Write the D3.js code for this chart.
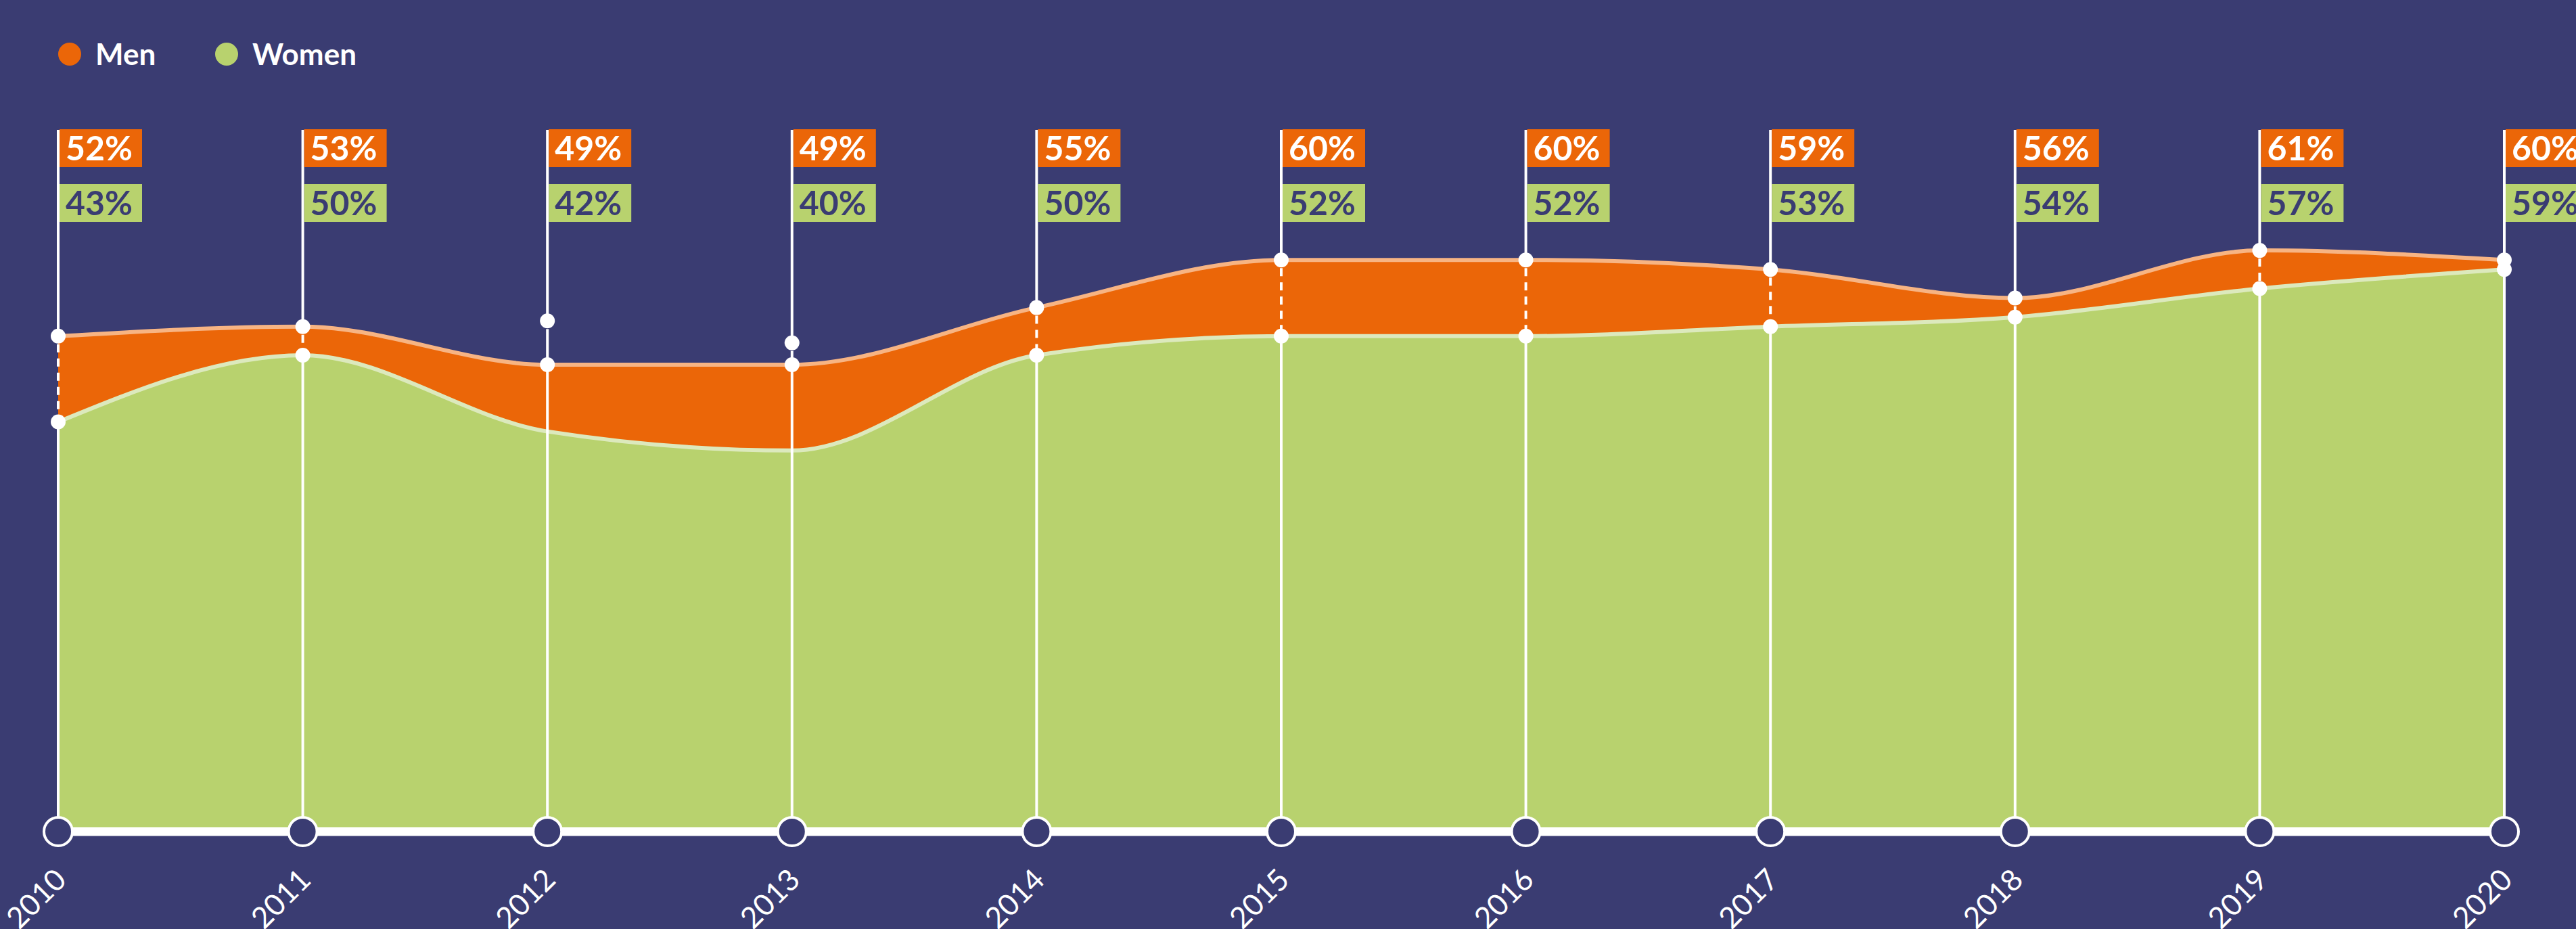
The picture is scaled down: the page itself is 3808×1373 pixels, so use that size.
<!DOCTYPE html>
<html>
<head>
<meta charset="utf-8">
<script src="https://cdn.jsdelivr.net/npm/d3@7"></script>
<style>
  html, body { margin: 0; padding: 0; background: #3a3c72; overflow: hidden; }
  text { font-family: Lato, "Open Sans", sans-serif; }
</style>
</head>
<body>
<div id="chart"></div>
<script>
// Chart data
var years = [2010, 2011, 2012, 2013, 2014, 2015, 2016, 2017, 2018, 2019, 2020];
var men = [52, 53, 49, 49, 55, 60, 60, 59, 56, 61, 60];
var women = [43, 50, 42, 40, 50, 52, 52, 53, 54, 57, 59];
// marker positions as drawn in the source (2012/2013 markers sit off the lines)
var menDot = [52, 53, 53.6, 51.3, 55, 60, 60, 59, 56, 61, 60];
var womenDot = [43, 50, 49, 49, 50, 52, 52, 53, 54, 57, 59];
var seriesNames = ["Men", "Women"];

// Chart params
var svgWidth = 3808;
var svgHeight = 1373;
var navy = "#3a3c72";
var orange = "#eb6608";
var green = "#b8d26e";

var data = years.map(function(yr, i) {
  return { year: yr, men: men[i], women: women[i], menDot: menDot[i], womenDot: womenDot[i] };
});

var svg = d3.select("#chart")
  .append("svg")
  .attr("width", svgWidth)
  .attr("height", svgHeight);

svg.append("rect")
  .attr("width", svgWidth)
  .attr("height", svgHeight)
  .attr("fill", navy);

// Scales
var x = d3.scaleLinear()
  .domain([2010, 2020])
  .range([86, 3702]);

var baseY = 1229;
var y = d3.scaleLinear()
  .domain([0, 60])
  .range([baseY, baseY - 60 * 14.08]);

// Areas
var menArea = d3.area()
  .curve(d3.curveMonotoneX)
  .x(d => x(d.year))
  .y0(d => y(d.women))
  .y1(d => y(d.men));

var womenArea = d3.area()
  .curve(d3.curveMonotoneX)
  .x(d => x(d.year))
  .y0(y(0))
  .y1(d => y(d.women));

svg.append("path")
  .datum(data)
  .attr("d", menArea)
  .attr("fill", orange);

svg.append("path")
  .datum(data)
  .attr("d", womenArea)
  .attr("fill", green);

// Outline lines
var menLine = d3.line().curve(d3.curveMonotoneX).x(d => x(d.year)).y(d => y(d.men));
var womenLine = d3.line().curve(d3.curveMonotoneX).x(d => x(d.year)).y(d => y(d.women));

svg.append("path")
  .datum(data)
  .attr("d", menLine)
  .attr("fill", "none")
  .attr("stroke", "#f7b483")
  .attr("stroke-width", 6);

svg.append("path")
  .datum(data)
  .attr("d", womenLine)
  .attr("fill", "none")
  .attr("stroke", "#dce9bd")
  .attr("stroke-width", 6);

// Vertical drop lines
var topY = 192;
var drops = svg.append("g");

drops.selectAll(".top-seg")
  .data(data)
  .enter()
  .append("line")
  .attr("x1", d => x(d.year))
  .attr("x2", d => x(d.year))
  .attr("y1", topY)
  .attr("y2", d => y(d.menDot))
  .attr("stroke", "white")
  .attr("stroke-width", 4);

drops.selectAll(".mid-seg")
  .data(data)
  .enter()
  .append("line")
  .attr("x1", d => x(d.year))
  .attr("x2", d => x(d.year))
  .attr("y1", d => y(d.menDot) + 12)
  .attr("y2", d => y(d.womenDot) - 8)
  .attr("stroke", "white")
  .attr("stroke-width", 4)
  // dashed only where the gap sits inside the orange band
  .attr("stroke-dasharray", d => d.menDot === d.men ? "12,9" : null);

drops.selectAll(".low-seg")
  .data(data)
  .enter()
  .append("line")
  .attr("x1", d => x(d.year))
  .attr("x2", d => x(d.year))
  .attr("y1", d => y(d.womenDot))
  .attr("y2", baseY)
  .attr("stroke", "white")
  .attr("stroke-width", 4);

// Dots
svg.selectAll(".dot-men")
  .data(data)
  .enter()
  .append("circle")
  .attr("cx", d => x(d.year))
  .attr("cy", d => y(d.menDot))
  .attr("r", 11)
  .attr("fill", "white");

svg.selectAll(".dot-women")
  .data(data)
  .enter()
  .append("circle")
  .attr("cx", d => x(d.year))
  .attr("cy", d => y(d.womenDot))
  .attr("r", 11)
  .attr("fill", "white");

// Baseline
svg.append("line")
  .attr("x1", x(2010))
  .attr("x2", x(2020))
  .attr("y1", baseY)
  .attr("y2", baseY)
  .attr("stroke", "white")
  .attr("stroke-width", 13);

svg.selectAll(".base-dot")
  .data(data)
  .enter()
  .append("circle")
  .attr("cx", d => x(d.year))
  .attr("cy", baseY)
  .attr("r", 21)
  .attr("fill", navy)
  .attr("stroke", "white")
  .attr("stroke-width", 4);

// Value labels
var labelW = 122, labelH = 56;

var menLabels = svg.selectAll(".lab-men")
  .data(data)
  .enter()
  .append("g")
  .attr("transform", d => `translate(${x(d.year) + 2}, 191)`);

menLabels.append("rect")
  .attr("width", labelW)
  .attr("height", labelH)
  .attr("fill", orange);

menLabels.append("text")
  .attr("x", 9)
  .attr("y", 46)
  .attr("fill", "white")
  .attr("font-size", 50)
  .attr("font-weight", 700)
  .text(d => d.men + "%");

var womenLabels = svg.selectAll(".lab-women")
  .data(data)
  .enter()
  .append("g")
  .attr("transform", d => `translate(${x(d.year) + 2}, 272)`);

womenLabels.append("rect")
  .attr("width", labelW)
  .attr("height", labelH)
  .attr("fill", green);

womenLabels.append("text")
  .attr("x", 9)
  .attr("y", 46)
  .attr("fill", navy)
  .attr("font-size", 50)
  .attr("font-weight", 700)
  .text(d => d.women + "%");

// X axis labels
var xAxis = d3.axisBottom(x)
  .tickValues(years)
  .tickFormat(d3.format("d"))
  .tickSize(0);

var axisG = svg.append("g")
  .attr("transform", `translate(0, ${baseY})`)
  .call(xAxis);

axisG.select(".domain").remove();
axisG.selectAll("text")
  .attr("fill", "white")
  .attr("font-size", 44)
  .attr("font-family", "Lato, sans-serif")
  .attr("text-anchor", "end")
  .attr("dy", null)
  .attr("y", 0)
  .attr("transform", "translate(14, 74) rotate(-45)");

// Legend
var legendX = [103, 335];
var legendColors = [orange, green];
var legend = svg.selectAll(".legend")
  .data(seriesNames)
  .enter()
  .append("g")
  .attr("transform", (d, i) => `translate(${legendX[i]}, 80)`);

legend.append("circle")
  .attr("r", 17)
  .attr("fill", (d, i) => legendColors[i]);

legend.append("text")
  .attr("x", 38)
  .attr("y", 16)
  .attr("fill", "white")
  .attr("font-size", 44)
  .attr("font-weight", 700)
  .text(d => d);
</script>
</body>
</html>
